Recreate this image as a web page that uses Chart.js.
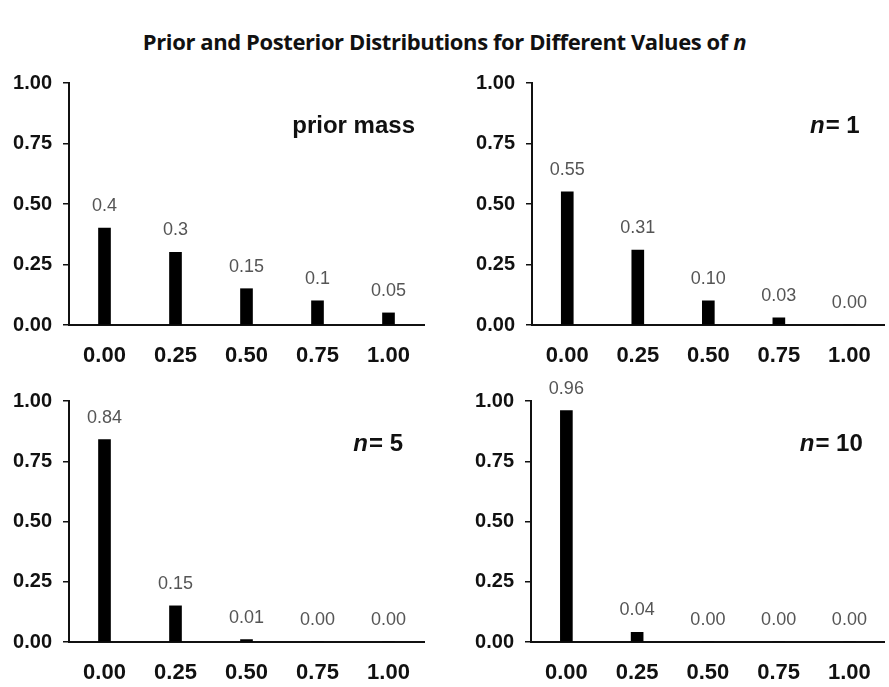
<!DOCTYPE html>
<html>
<head>
<meta charset="utf-8">
<script src="https://cdn.jsdelivr.net/npm/chart.js@4.4.0/dist/chart.umd.min.js"></script>
<style>
  html, body { margin: 0; padding: 0; background: #fff; }
  body { width: 889px; height: 687px; position: relative; overflow: hidden; }
  #title { position: absolute; left: 0; top: 26px; width: 889px; text-align: center;
    font-family: "Open Sans", sans-serif; font-weight: 700; font-size: 22px; color: #111; letter-spacing: -0.4px; }
  canvas { position: absolute; }
</style>
</head>
<body>
<div id="title">Prior and Posterior Distributions for Different Values of <i>n</i></div>
<canvas id="c0"></canvas>
<canvas id="c1"></canvas>
<canvas id="c2"></canvas>
<canvas id="c3"></canvas>
<script>
// categories on the x axis (theta values)
const categories = ['0.00', '0.25', '0.50', '0.75', '1.00'];
const yTickLabels = ['0.00', '0.25', '0.50', '0.75', '1.00'];

// bar heights per panel
const priorMass = [0.4, 0.3, 0.15, 0.1, 0.05];
const posteriorN1 = [0.55, 0.31, 0.10, 0.03, 0.00];
const posteriorN5 = [0.84, 0.15, 0.01, 0.00, 0.00];
const posteriorN10 = [0.96, 0.04, 0.00, 0.00, 0.00];

// printed labels above bars
const priorLabels = ['0.4', '0.3', '0.15', '0.1', '0.05'];
const n1Labels = ['0.55', '0.31', '0.10', '0.03', '0.00'];
const n5Labels = ['0.84', '0.15', '0.01', '0.00', '0.00'];
const n10Labels = ['0.96', '0.04', '0.00', '0.00', '0.00'];

// panel captions
const captions = [['', 'prior mass'], ['n', '= 1'], ['n', '= 5'], ['n', '= 10']];

const panels = [
  { id: 'c0', left: 0, top: 60, w: 440, h: 330, yW: 69, padR: 16, xH: 65, data: priorMass, labels: priorLabels, cap: captions[0], capR: 9, capY: 43 },
  { id: 'c1', left: 440, top: 60, w: 449, h: 330, yW: 92, padR: 2, xH: 65, data: posteriorN1, labels: n1Labels, cap: captions[1], capR: 25, capY: 43 },
  { id: 'c2', left: 0, top: 378, w: 440, h: 309, yW: 69, padR: 16, xH: 45, data: posteriorN5, labels: n5Labels, cap: captions[2], capR: 21, capY: 43 },
  { id: 'c3', left: 440, top: 378, w: 449, h: 309, yW: 91, padR: 2, xH: 45, data: posteriorN10, labels: n10Labels, cap: captions[3], capR: 22, capY: 43 }
];

const FONT = '"Liberation Sans", Arial, sans-serif';

// draws value labels above bars and the caption in the corner
const barLabels = {
  id: 'barLabels',
  afterDatasetsDraw(chart, args, opts) {
    const ctx = chart.ctx;
    const meta = chart.getDatasetMeta(0);
    ctx.save();
    ctx.font = '18px ' + FONT;
    ctx.fillStyle = '#555';
    ctx.textAlign = 'center';
    ctx.textBaseline = 'middle';
    meta.data.forEach((bar, i) => {
      ctx.fillText(opts.labels[i], bar.x, bar.y - 22);
    });
    // caption
    const area = chart.chartArea;
    const xr = area.right - opts.capR;
    const y = area.top + opts.capY;
    ctx.fillStyle = '#111';
    ctx.textAlign = 'right';
    ctx.font = 'bold 24px ' + FONT;
    const rest = opts.cap[1];
    ctx.fillText(rest, xr, y);
    if (opts.cap[0]) {
      const wRest = ctx.measureText(rest).width;
      ctx.font = 'italic bold 24px ' + FONT;
      ctx.fillText(opts.cap[0], xr - wRest - 1, y);
    }
    ctx.restore();
  }
};

panels.forEach(p => {
  const canvas = document.getElementById(p.id);
  canvas.style.left = p.left + 'px';
  canvas.style.top = p.top + 'px';
  canvas.width = p.w;
  canvas.height = p.h;
  new Chart(canvas.getContext('2d'), {
    type: 'bar',
    data: {
      labels: categories,
      datasets: [{ data: p.data, backgroundColor: '#000', barThickness: 12 }]
    },
    options: {
      responsive: false,
      animation: false,
      layout: { padding: { top: 22, right: p.padR, left: 0, bottom: 0 } },
      plugins: {
        legend: { display: false },
        tooltip: { enabled: false },
        barLabels: { labels: p.labels, cap: p.cap, capR: p.capR, capY: p.capY }
      },
      scales: {
        x: {
          grid: { display: false, drawTicks: false },
          border: { display: true, color: '#111', width: 2 },
          ticks: { color: '#111', padding: 18, font: { family: FONT, size: 22, weight: 'bold' } },
          afterFit: s => { s.height = p.xH; }
        },
        y: {
          min: 0, max: 1,
          grid: { drawOnChartArea: false, drawTicks: true, tickLength: 6, color: '#111', lineWidth: 1.5 },
          border: { display: true, color: '#111', width: 2 },
          ticks: {
            stepSize: 0.25, color: '#111', padding: 11,
            font: { family: FONT, size: 20, weight: 'bold' },
            callback: (v, i) => yTickLabels[i]
          },
          afterFit: s => { s.width = p.yW; }
        }
      }
    },
    plugins: [barLabels]
  });
});
</script>
</body>
</html>
